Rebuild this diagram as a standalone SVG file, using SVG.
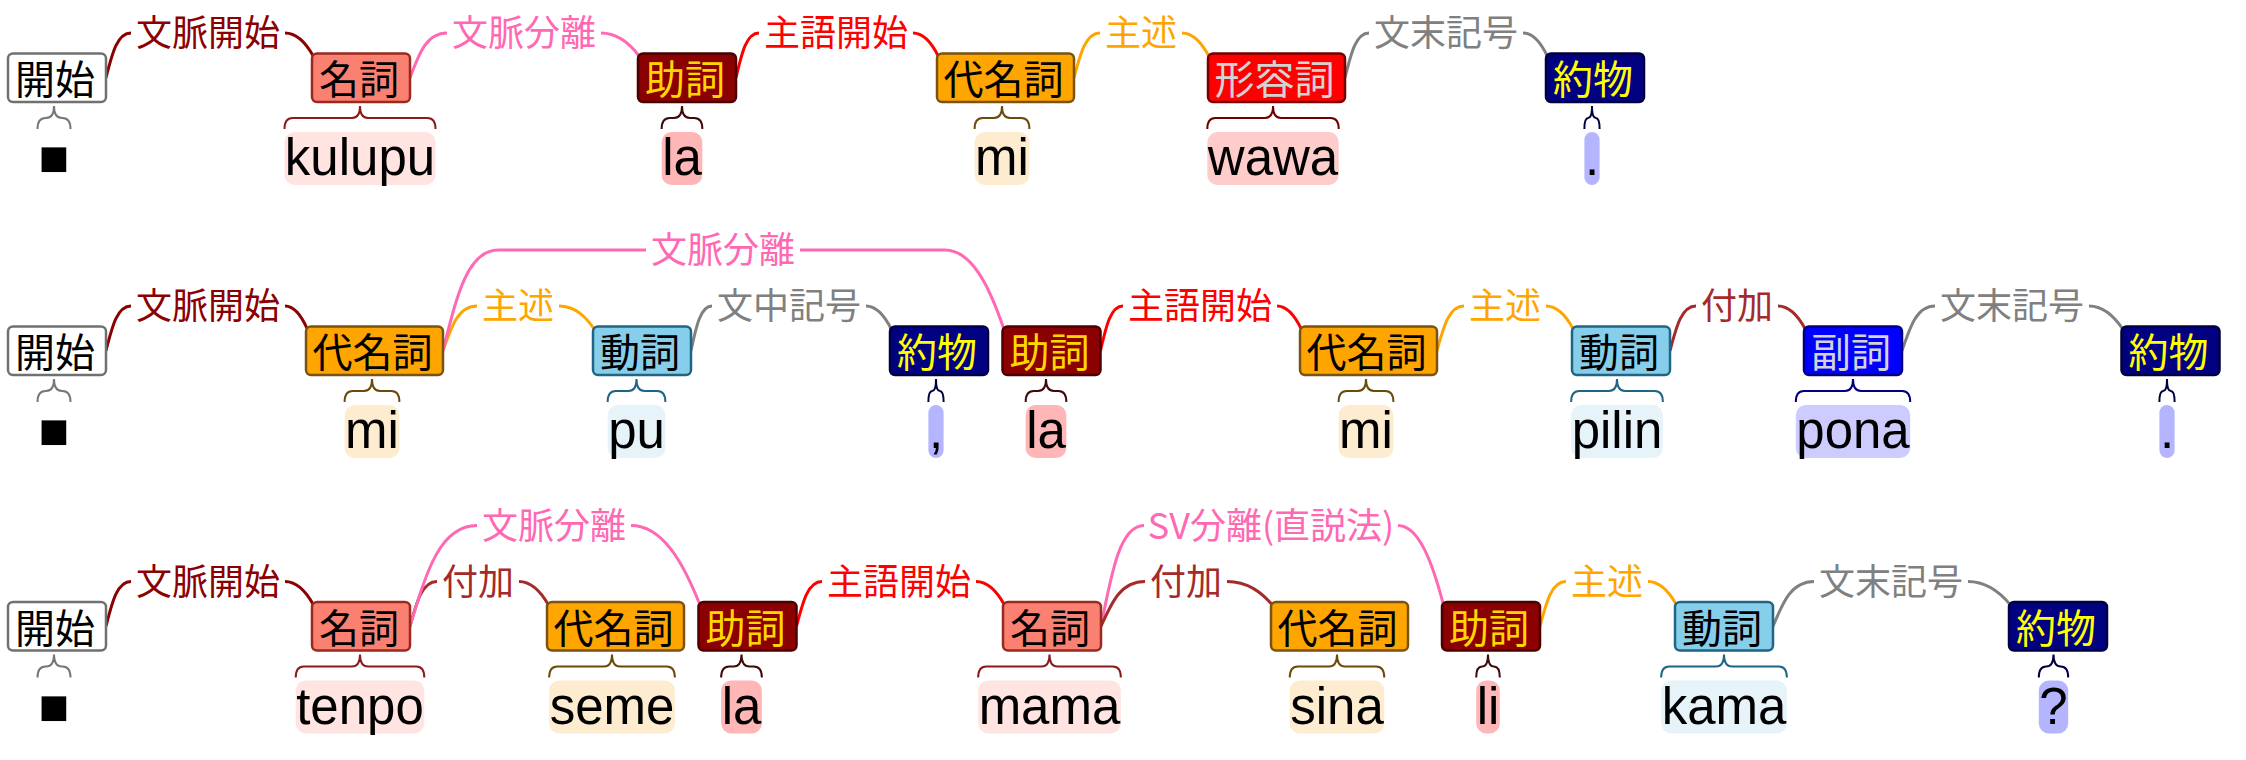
<svg xmlns="http://www.w3.org/2000/svg" width="2246" height="760" viewBox="0 0 2246 760">
<style>
.box{stroke-width:2.5}
.nt{font-family:"Noto Sans CJK JP","Noto Sans CJK SC",sans-serif;font-size:40px;text-anchor:middle}
.wt{font-family:"Liberation Sans",Arial,sans-serif;font-size:51px;text-anchor:middle;fill:#000}
.br{fill:none;stroke-width:2}
.cn text{font-family:"Noto Sans CJK JP","Noto Sans CJK SC",sans-serif;font-size:36px;text-anchor:middle;fill:currentColor}
.cn path{fill:none;stroke:currentColor;stroke-width:3}
.e-bm{color:#8b0000}.e-bb{color:#ff69b4}.e-sg{color:#ff0000}.e-sj{color:#ffa500}.e-kg{color:#808080}.e-fk{color:#a52a2a}
.t-kaishi .box{fill:#fff;stroke:#707070}.t-kaishi .nt{fill:#000}.t-kaishi .br{stroke:#777}
.t-meishi .box{fill:#fa8072;stroke:#9a2a1e}.t-meishi .nt{fill:#000}.t-meishi .br{stroke:#8b1a1a}.t-meishi .wb{fill:#ffe4e1}
.t-joshi .box{fill:#8b0000;stroke:#4a0000}.t-joshi .nt{fill:#ffd700}.t-joshi .br{stroke:#3d0a0a}.t-joshi .wb{fill:#ffb6b6}
.t-daimeishi .box{fill:#ffa500;stroke:#7a5312}.t-daimeishi .nt{fill:#000}.t-daimeishi .br{stroke:#6b4a0c}.t-daimeishi .wb{fill:#fdecd0}
.t-keiyoushi .box{fill:#ff0000;stroke:#7a0000}.t-keiyoushi .nt{fill:#d3d3d3}.t-keiyoushi .br{stroke:#700000}.t-keiyoushi .wb{fill:#ffcccc}
.t-yakubutsu .box{fill:#000080;stroke:#000040}.t-yakubutsu .nt{fill:#ffff00}.t-yakubutsu .br{stroke:#000040}.t-yakubutsu .wb{fill:#b5b5ff}
.t-doushi .box{fill:#87ceeb;stroke:#1f6585}.t-doushi .nt{fill:#000}.t-doushi .br{stroke:#1f6585}.t-doushi .wb{fill:#e6f4fa}
.t-fukushi .box{fill:#0000ff;stroke:#000080}.t-fukushi .nt{fill:#d3d3d3}.t-fukushi .br{stroke:#000080}.t-fukushi .wb{fill:#ccccff}
</style>
<g id="connectors" class="cn">
<g class="e-bm"><path d="M106,77.75 c6.25,-24.6 11.25,-44.75 25,-44.75 M285,33 c12.8,0 21.4,10.6 28.5,23.5"/><text x="208" y="46">文脈開始</text></g>
<g class="e-bb"><path d="M410,77.75 c9.25,-24.6 16.65,-44.75 37,-44.75 M601,33 c17.3,0 28.9,10.6 38.5,23.5"/><text x="524" y="46">文脈分離</text></g>
<g class="e-sg"><path d="M736,77.75 c5.75,-24.6 10.35,-44.75 23,-44.75 M913,33 c11.5,0 19.1,10.6 25.5,23.5"/><text x="836" y="46">主語開始</text></g>
<g class="e-sj"><path d="M1074,77.75 c6.5,-24.6 11.7,-44.75 26,-44.75 M1182,33 c12.15,0 20.25,10.6 27,23.5"/><text x="1141" y="46">主述</text></g>
<g class="e-kg"><path d="M1345,77.75 c6.1,-24.6 11,-44.75 24,-44.75 M1523,33 c11,0 18.4,10.6 24.5,23.5"/><text x="1446" y="46">文末記号</text></g>

<g class="e-bm"><path d="M106,350.75 c6.25,-24.6 11.25,-44.75 25,-44.75 M285,306 c10.1,0 16.9,10.6 22.5,23.5"/><text x="208" y="319">文脈開始</text></g>
<g class="e-sj"><path d="M443,350.75 c8.5,-24.6 15.3,-44.75 34,-44.75 M559,306 c16,0 26.6,10.6 35.5,23.5"/><text x="518" y="319">主述</text></g>
<g class="e-kg"><path d="M691,350.75 c5.25,-24.6 9.45,-44.75 21,-44.75 M866,306 c11.5,0 19.1,10.6 25.5,23.5"/><text x="789" y="319">文中記号</text></g>
<g class="e-bb"><path d="M443,350.75 c13.75,-55.4 24.75,-100.75 55,-100.75 H646 M800,250 H945 c26.55,0 44.25,35.8 59,79.5"/><text x="723" y="263">文脈分離</text></g>
<g class="e-sg"><path d="M1100.5,350.75 c5.6,-24.6 10.1,-44.75 22.5,-44.75 M1277,306 c11,0 18.4,10.6 24.5,23.5"/><text x="1200" y="319">主語開始</text></g>
<g class="e-sj"><path d="M1437,350.75 c6.75,-24.6 12.15,-44.75 27,-44.75 M1546,306 c12.4,0 20.6,10.6 27.5,23.5"/><text x="1505" y="319">主述</text></g>
<g class="e-fk"><path d="M1670,350.75 c6.5,-24.6 11.7,-44.75 26,-44.75 M1778,306 c12.4,0 20.6,10.6 27.5,23.5"/><text x="1737" y="319">付加</text></g>
<g class="e-kg"><path d="M1902,350.75 c8.25,-24.6 14.85,-44.75 33,-44.75 M2089,306 c15.3,0 25.5,10.6 34,23.5"/><text x="2012" y="319">文末記号</text></g>

<g class="e-bm"><path d="M106,626.25 c6.25,-24.6 11.25,-44.75 25,-44.75 M285,581.5 c12.8,0 21.4,10.6 28.5,23.5"/><text x="208" y="594.5">文脈開始</text></g>
<g class="e-fk"><path d="M410,626.25 c6.75,-24.6 12.15,-44.75 27,-44.75 M519,581.5 c13.3,0 22.1,10.6 29.5,23.5"/><text x="478" y="594.5">付加</text></g>
<g class="e-bb"><path d="M410,626.25 c16.75,-55.4 30.15,-100.75 67,-100.75 M631,525.5 c31.05,0 51.75,35.8 69,79.5"/><text x="554" y="538.5">文脈分離</text></g>
<g class="e-sg"><path d="M796.5,626.25 c6.4,-24.6 11.5,-44.75 25.5,-44.75 M976,581.5 c12.8,0 21.4,10.6 28.5,23.5"/><text x="899" y="594.5">主語開始</text></g>
<g class="e-bb"><path d="M1101,626.25 c10.75,-55.4 19.35,-100.75 43,-100.75 M1398,525.5 c20.5,0 34.1,35.8 45.5,79.5"/><text x="1271" y="538.5">SV分離(直説法)</text></g>
<g class="e-fk"><path d="M1101,626.25 c11,-24.6 19.8,-44.75 44,-44.75 M1227,581.5 c20.5,0 34.1,10.6 45.5,23.5"/><text x="1186" y="594.5">付加</text></g>
<g class="e-sj"><path d="M1540,626.25 c6.5,-24.6 11.7,-44.75 26,-44.75 M1648,581.5 c12.8,0 21.4,10.6 28.5,23.5"/><text x="1607" y="594.5">主述</text></g>
<g class="e-kg"><path d="M1773,626.25 c10.25,-24.6 18.45,-44.75 41,-44.75 M1968,581.5 c19.1,0 31.9,10.6 42.5,23.5"/><text x="1891" y="594.5">文末記号</text></g>
</g>

<!-- Row 1 -->
<g id="r1-kaishi" class="t-kaishi"><rect class="box" x="8" y="53.5" width="98" height="48.5" rx="5"/><text class="nt" x="55" y="94">開始</text><path class="br" d="M37.5,129 q0,-11 8,-11 h0.5 q8,0 8,-12 q0,12 8,12 h0.5 q8,0 8,11"/><text class="wt" x="54" y="175">■</text></g>
<g id="r1-kulupu" class="t-meishi"><rect class="box" x="312" y="53.5" width="98" height="48.5" rx="5"/><text class="nt" x="359" y="94">名詞</text><path class="br" d="M284.5,129 q0,-11 8,-11 h59.5 q8,0 8,-12 q0,12 8,12 h59.5 q8,0 8,11"/><rect class="wb" x="284.5" y="132" width="151" height="53" rx="10"/><text class="wt" x="360" y="175">kulupu</text></g>
<g id="r1-la" class="t-joshi"><rect class="box" x="638" y="53.5" width="98" height="48.5" rx="5"/><text class="nt" x="685" y="94">助詞</text><path class="br" d="M661.65,129 q0,-11 8,-11 h4.35 q8,0 8,-12 q0,12 8,12 h4.35 q8,0 8,11"/><rect class="wb" x="661.65" y="132" width="40.7" height="53" rx="10"/><text class="wt" x="682" y="175">la</text></g>
<g id="r1-mi" class="t-daimeishi"><rect class="box" x="937" y="53.5" width="137" height="48.5" rx="5"/><text class="nt" x="1003.5" y="94">代名詞</text><path class="br" d="M974.6,129 q0,-11 8,-11 h11.4 q8,0 8,-12 q0,12 8,12 h11.4 q8,0 8,11"/><rect class="wb" x="974.6" y="132" width="54.8" height="53" rx="10"/><text class="wt" x="1002" y="175">mi</text></g>
<g id="r1-wawa" class="t-keiyoushi"><rect class="box" x="1208" y="53.5" width="137" height="48.5" rx="5"/><text class="nt" x="1274.5" y="94">形容詞</text><path class="br" d="M1207.3,129 q0,-11 8,-11 h49.7 q8,0 8,-12 q0,12 8,12 h49.7 q8,0 8,11"/><rect class="wb" x="1207.3" y="132" width="131.4" height="53" rx="10"/><text class="wt" x="1273" y="175">wawa</text></g>
<g id="r1-period" class="t-yakubutsu"><rect class="box" x="1546" y="53.5" width="98" height="48.5" rx="5"/><text class="nt" x="1593" y="94">約物</text><path class="br" d="M1584.4,129 q0,-11 3.8,-11 q3.8,0 3.8,-12 q0,12 3.8,12 q3.8,0 3.8,11"/><rect class="wb" x="1584.4" y="132" width="15.2" height="53" rx="7.6"/><text class="wt" x="1592" y="175">.</text></g>

<!-- Row 2 -->
<g id="r2-kaishi" class="t-kaishi"><rect class="box" x="8" y="326.5" width="98" height="48.5" rx="5"/><text class="nt" x="55" y="367">開始</text><path class="br" d="M37.5,402 q0,-11 8,-11 h0.5 q8,0 8,-12 q0,12 8,12 h0.5 q8,0 8,11"/><text class="wt" x="54" y="448">■</text></g>
<g id="r2-mi" class="t-daimeishi"><rect class="box" x="306" y="326.5" width="137" height="48.5" rx="5"/><text class="nt" x="372.5" y="367">代名詞</text><path class="br" d="M344.6,402 q0,-11 8,-11 h11.4 q8,0 8,-12 q0,12 8,12 h11.4 q8,0 8,11"/><rect class="wb" x="344.6" y="405" width="54.8" height="53" rx="10"/><text class="wt" x="372" y="448">mi</text></g>
<g id="r2-pu" class="t-doushi"><rect class="box" x="593" y="326.5" width="98" height="48.5" rx="5"/><text class="nt" x="640" y="367">動詞</text><path class="br" d="M607.65,402 q0,-11 8,-11 h12.85 q8,0 8,-12 q0,12 8,12 h12.85 q8,0 8,11"/><rect class="wb" x="607.65" y="405" width="57.7" height="53" rx="10"/><text class="wt" x="636.5" y="448">pu</text></g>
<g id="r2-comma" class="t-yakubutsu"><rect class="box" x="890" y="326.5" width="98" height="48.5" rx="5"/><text class="nt" x="937" y="367">約物</text><path class="br" d="M928.4,402 q0,-11 3.8,-11 q3.8,0 3.8,-12 q0,12 3.8,12 q3.8,0 3.8,11"/><rect class="wb" x="928.4" y="405" width="15.2" height="53" rx="7.6"/><text class="wt" x="936" y="448">,</text></g>
<g id="r2-la" class="t-joshi"><rect class="box" x="1002.5" y="326.5" width="98" height="48.5" rx="5"/><text class="nt" x="1049.5" y="367">助詞</text><path class="br" d="M1025.65,402 q0,-11 8,-11 h4.35 q8,0 8,-12 q0,12 8,12 h4.35 q8,0 8,11"/><rect class="wb" x="1025.65" y="405" width="40.7" height="53" rx="10"/><text class="wt" x="1046" y="448">la</text></g>
<g id="r2-mi2" class="t-daimeishi"><rect class="box" x="1300" y="326.5" width="137" height="48.5" rx="5"/><text class="nt" x="1366.5" y="367">代名詞</text><path class="br" d="M1338.6,402 q0,-11 8,-11 h11.4 q8,0 8,-12 q0,12 8,12 h11.4 q8,0 8,11"/><rect class="wb" x="1338.6" y="405" width="54.8" height="53" rx="10"/><text class="wt" x="1366" y="448">mi</text></g>
<g id="r2-pilin" class="t-doushi"><rect class="box" x="1572" y="326.5" width="98" height="48.5" rx="5"/><text class="nt" x="1619" y="367">動詞</text><path class="br" d="M1571.15,402 q0,-11 8,-11 h29.85 q8,0 8,-12 q0,12 8,12 h29.85 q8,0 8,11"/><rect class="wb" x="1571.15" y="405" width="91.7" height="53" rx="10"/><text class="wt" x="1617" y="448">pilin</text></g>
<g id="r2-pona" class="t-fukushi"><rect class="box" x="1804" y="326.5" width="98" height="48.5" rx="5"/><text class="nt" x="1851" y="367">副詞</text><path class="br" d="M1795.8,402 q0,-11 8,-11 h41.2 q8,0 8,-12 q0,12 8,12 h41.2 q8,0 8,11"/><rect class="wb" x="1795.8" y="405" width="114.4" height="53" rx="10"/><text class="wt" x="1853" y="448">pona</text></g>
<g id="r2-period" class="t-yakubutsu"><rect class="box" x="2121.5" y="326.5" width="98" height="48.5" rx="5"/><text class="nt" x="2168.5" y="367">約物</text><path class="br" d="M2159.4,402 q0,-11 3.8,-11 q3.8,0 3.8,-12 q0,12 3.8,12 q3.8,0 3.8,11"/><rect class="wb" x="2159.4" y="405" width="15.2" height="53" rx="7.6"/><text class="wt" x="2167" y="448">.</text></g>

<!-- Row 3 -->
<g id="r3-kaishi" class="t-kaishi"><rect class="box" x="8" y="602" width="98" height="48.5" rx="5"/><text class="nt" x="55" y="642.5">開始</text><path class="br" d="M37.5,677.5 q0,-11 8,-11 h0.5 q8,0 8,-12 q0,12 8,12 h0.5 q8,0 8,11"/><text class="wt" x="54" y="723.5">■</text></g>
<g id="r3-tenpo" class="t-meishi"><rect class="box" x="312" y="602" width="98" height="48.5" rx="5"/><text class="nt" x="359" y="642.5">名詞</text><path class="br" d="M295.7,677.5 q0,-11 8,-11 h48.3 q8,0 8,-12 q0,12 8,12 h48.3 q8,0 8,11"/><rect class="wb" x="295.7" y="680.5" width="128.6" height="53" rx="10"/><text class="wt" x="360" y="723.5">tenpo</text></g>
<g id="r3-seme" class="t-daimeishi"><rect class="box" x="547" y="602" width="137" height="48.5" rx="5"/><text class="nt" x="613.5" y="642.5">代名詞</text><path class="br" d="M549.15,677.5 q0,-11 8,-11 h46.85 q8,0 8,-12 q0,12 8,12 h46.85 q8,0 8,11"/><rect class="wb" x="549.15" y="680.5" width="125.7" height="53" rx="10"/><text class="wt" x="612" y="723.5">seme</text></g>
<g id="r3-la" class="t-joshi"><rect class="box" x="698.5" y="602" width="98" height="48.5" rx="5"/><text class="nt" x="745.5" y="642.5">助詞</text><path class="br" d="M721.15,677.5 q0,-11 8,-11 h4.35 q8,0 8,-12 q0,12 8,12 h4.35 q8,0 8,11"/><rect class="wb" x="721.15" y="680.5" width="40.7" height="53" rx="10"/><text class="wt" x="741.5" y="723.5">la</text></g>
<g id="r3-mama" class="t-meishi"><rect class="box" x="1003" y="602" width="98" height="48.5" rx="5"/><text class="nt" x="1050" y="642.5">名詞</text><path class="br" d="M978.15,677.5 q0,-11 8,-11 h55.35 q8,0 8,-12 q0,12 8,12 h55.35 q8,0 8,11"/><rect class="wb" x="978.15" y="680.5" width="142.7" height="53" rx="10"/><text class="wt" x="1049.5" y="723.5">mama</text></g>
<g id="r3-sina" class="t-daimeishi"><rect class="box" x="1271" y="602" width="137" height="48.5" rx="5"/><text class="nt" x="1337.5" y="642.5">代名詞</text><path class="br" d="M1289.75,677.5 q0,-11 8,-11 h31.25 q8,0 8,-12 q0,12 8,12 h31.25 q8,0 8,11"/><rect class="wb" x="1289.75" y="680.5" width="94.5" height="53" rx="10"/><text class="wt" x="1337" y="723.5">sina</text></g>
<g id="r3-li" class="t-joshi"><rect class="box" x="1442" y="602" width="98" height="48.5" rx="5"/><text class="nt" x="1489" y="642.5">助詞</text><path class="br" d="M1476.2,677.5 q0,-11 5.9,-11 q5.9,0 5.9,-12 q0,12 5.9,12 q5.9,0 5.9,11"/><rect class="wb" x="1476.2" y="680.5" width="23.6" height="53" rx="10"/><text class="wt" x="1488" y="723.5">li</text></g>
<g id="r3-kama" class="t-doushi"><rect class="box" x="1675" y="602" width="98" height="48.5" rx="5"/><text class="nt" x="1722" y="642.5">動詞</text><path class="br" d="M1661.15,677.5 q0,-11 8,-11 h46.85 q8,0 8,-12 q0,12 8,12 h46.85 q8,0 8,11"/><rect class="wb" x="1661.15" y="680.5" width="125.7" height="53" rx="10"/><text class="wt" x="1724" y="723.5">kama</text></g>
<g id="r3-question" class="t-yakubutsu"><rect class="box" x="2009" y="602" width="98" height="48.5" rx="5"/><text class="nt" x="2056" y="642.5">約物</text><path class="br" d="M2038.8,677.5 q0,-11 7.35,-11 q7.35,0 7.35,-12 q0,12 7.35,12 q7.35,0 7.35,11"/><rect class="wb" x="2038.8" y="680.5" width="29.4" height="53" rx="10"/><text class="wt" x="2053.5" y="723.5">?</text></g>
</svg>
